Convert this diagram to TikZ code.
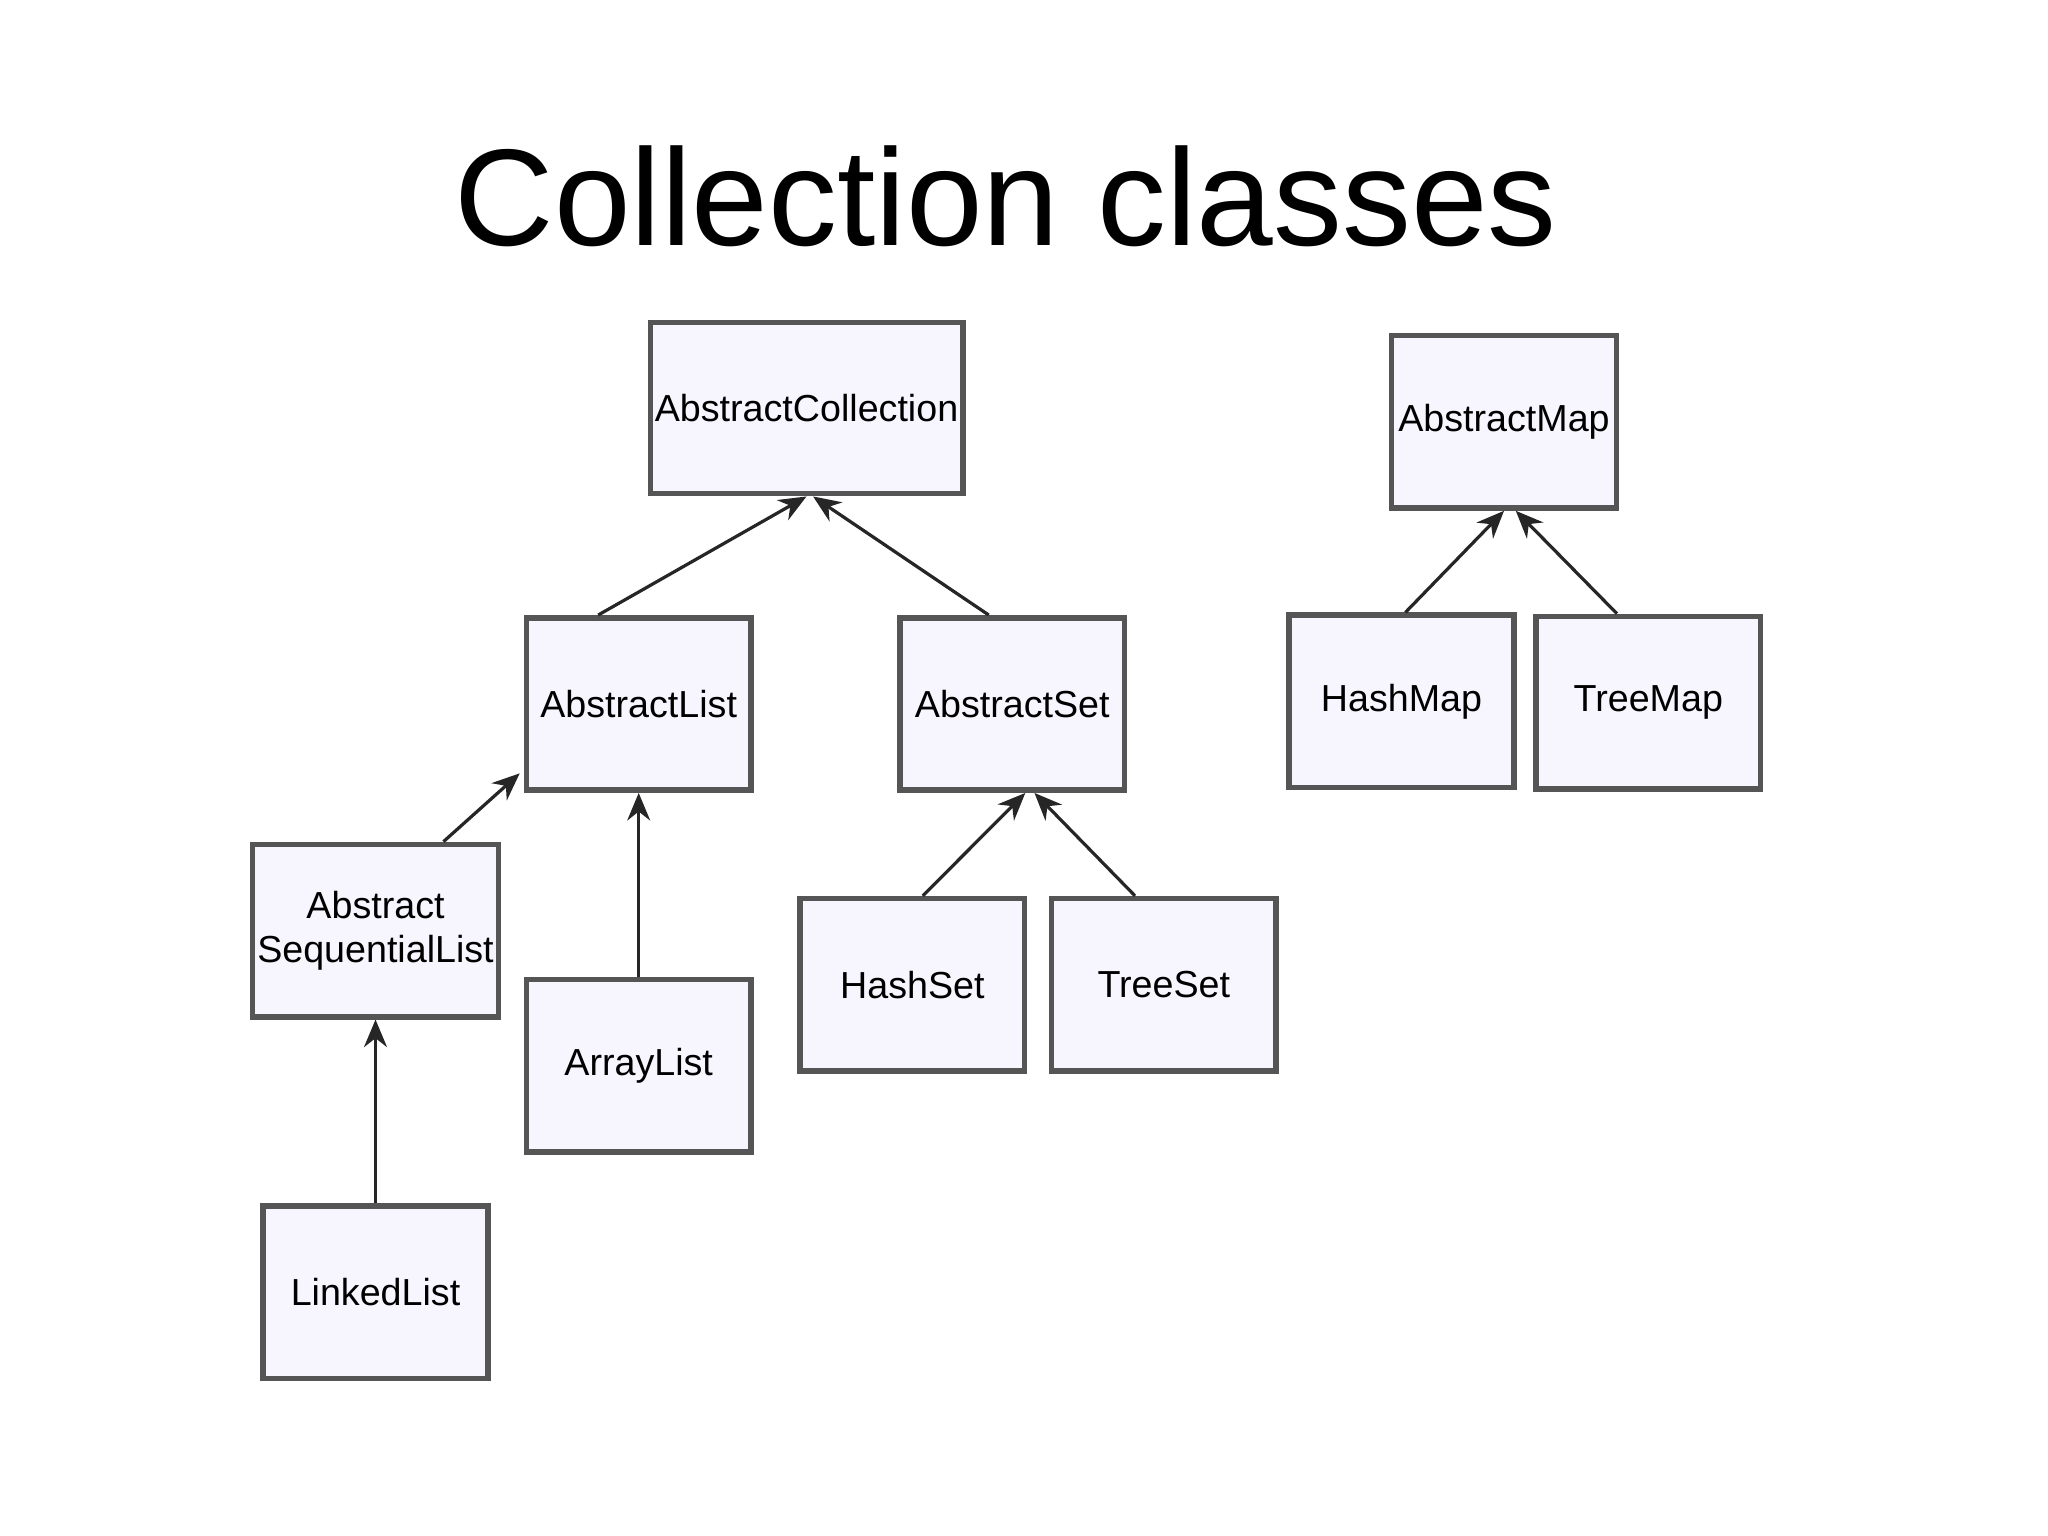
\documentclass[tikz,border=0pt]{standalone}
\usepackage{fontspec}
\setmainfont{Liberation Sans}
\usetikzlibrary{arrows.meta}
\definecolor{boxfill}{HTML}{F7F6FF}
\definecolor{boxline}{HTML}{555555}
\tikzset{
  classbox/.style={draw=boxline, line width=1.2pt, fill=boxfill, minimum width=1.72cm,
    minimum height=1.32cm, inner sep=1pt, align=center, font=\fontsize{8.2}{9.5}\selectfont},
  inherit/.style={-{Stealth[length=6pt,width=5pt]}, line width=0.7pt, draw=black!85}
}
\begin{document}
\begin{tikzpicture}
  \useasboundingbox (0,0) rectangle (15.68,-11.76);
  % title
  \node (title) at (7.7,-1.5) {\fontsize{30}{34}\selectfont Collection classes};
  % classes
  \node[classbox, minimum width=2.39cm, minimum height=1.31cm] (coll) at (6.175,-3.125) {AbstractCollection};
  \node[classbox] (amap) at (11.515,-3.23) {AbstractMap};
  \node[classbox] (alist) at (4.89,-5.39) {AbstractList};
  \node[classbox] (aset) at (7.75,-5.39) {AbstractSet};
  \node[classbox] (hmap) at (10.73,-5.37) {HashMap};
  \node[classbox] (tmap) at (12.62,-5.38) {TreeMap};
  \node[classbox] (aseq) at (2.875,-7.125) {Abstract\\SequentialList};
  \node[classbox] (alst) at (4.89,-8.16) {ArrayList};
  \node[classbox] (hset) at (6.985,-7.54) {HashSet};
  \node[classbox] (tset) at (8.91,-7.54) {TreeSet};
  \node[classbox] (llist) at (2.875,-9.895) {LinkedList};
  % inheritance arrows
  \draw[inherit] ([xshift=-0.31cm]alist.north) -- (coll.south);
  \draw[inherit] ([xshift=-0.18cm]aset.north) -- ([xshift=0.05cm]coll.south);
  \draw[inherit] ([xshift=0.52cm]aseq.north) -- ([xshift=-0.03cm,yshift=0.15cm]alist.south west);
  \draw[inherit] (alst.north) -- (alist.south);
  \draw[inherit] (llist.north) -- (aseq.south);
  \draw[inherit] ([xshift=0.08cm]hset.north) -- ([xshift=0.1cm]aset.south);
  \draw[inherit] ([xshift=-0.22cm]tset.north) -- ([xshift=0.17cm]aset.south);
  \draw[inherit] ([xshift=0.03cm]hmap.north) -- (amap.south);
  \draw[inherit] ([xshift=-0.24cm]tmap.north) -- ([xshift=0.09cm]amap.south);
\end{tikzpicture}
\end{document}
